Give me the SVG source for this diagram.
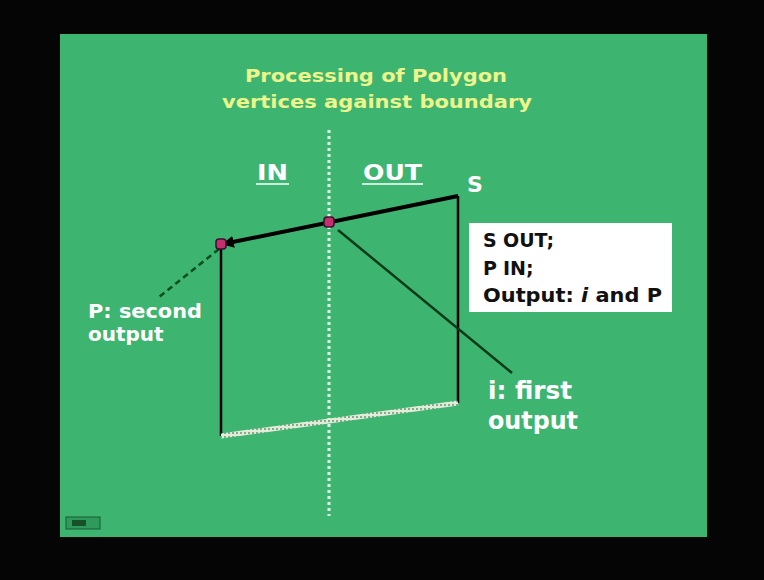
<svg xmlns="http://www.w3.org/2000/svg" width="764" height="580" viewBox="0 0 764 580">
<defs>
<style>
.title{font-family:"DejaVu Sans",Verdana,sans-serif;font-weight:bold;font-size:18px;fill:#eef58a}
.lbl{font-family:"DejaVu Sans",Verdana,sans-serif;font-weight:bold;fill:#ffffff}
.box{font-family:"DejaVu Sans",Verdana,sans-serif;font-weight:bold;font-size:19px;fill:#111}
.edge{stroke:#000;fill:none}
.dot{fill:#c4306e;stroke:#3a1030;stroke-width:1.5}
</style>
<pattern id="hatch" width="4" height="4" patternUnits="userSpaceOnUse">
<rect width="4" height="4" fill="#e0ecd8"/>
<rect width="2" height="2" fill="#8aa890"/>
</pattern>
<marker id="arr" viewBox="0 0 10 10" refX="9" refY="5" markerWidth="3" markerHeight="3" orient="auto">
<path d="M0,0 L10,5 L0,10 z" fill="#000"/>
</marker>
</defs>
<rect width="764" height="580" fill="#050505"/>
<rect x="60" y="34" width="647" height="503" fill="#3db571"/>
<g id="title">
<text class="title" x="245" y="82" textLength="262" lengthAdjust="spacingAndGlyphs">Processing of Polygon</text>
<text class="title" x="222" y="108" textLength="310" lengthAdjust="spacingAndGlyphs">vertices against boundary</text>
</g>
<g id="boundary">
<line x1="329" y1="130" x2="329" y2="516" stroke="#e6fbe8" stroke-width="3" stroke-dasharray="3,3"/>
</g>
<g id="region-labels">
<text class="lbl" x="257" y="180" font-size="21" textLength="31" lengthAdjust="spacingAndGlyphs">IN</text>
<line x1="256" y1="184" x2="289" y2="184" stroke="#fff" stroke-width="1.5"/>
<text class="lbl" x="363" y="180" font-size="21" textLength="59" lengthAdjust="spacingAndGlyphs">OUT</text>
<line x1="362" y1="184" x2="423" y2="184" stroke="#fff" stroke-width="1.5"/>
</g>
<g id="connectors">
<line class="edge" x1="458" y1="196" x2="223" y2="244" stroke-width="4" marker-end="url(#arr)"/>
<line class="edge" x1="458" y1="196" x2="458" y2="403" stroke-width="2.5"/>
<line class="edge" x1="221" y1="245" x2="221" y2="436" stroke-width="2.5"/>
<line x1="221" y1="436" x2="458" y2="403" stroke="url(#hatch)" stroke-width="5"/>
<line x1="219" y1="249" x2="158" y2="298" stroke="#0d4d22" stroke-width="2.5" stroke-dasharray="6,4"/>
<line x1="338" y1="230" x2="512" y2="373" stroke="#0a3a18" stroke-width="2.5"/>
</g>
<g id="S">
<text class="lbl" x="467" y="192" font-size="22">S</text>
</g>
<g id="P">
<rect class="dot" x="216" y="239" width="10" height="10" rx="3"/>
</g>
<g id="i">
<rect class="dot" x="324" y="217" width="10" height="10" rx="3"/>
</g>
<g id="infobox">
<rect x="469" y="223" width="203" height="89" fill="#ffffff"/>
<text class="box" y="247"><tspan x="483">S</tspan><tspan x="503">OUT;</tspan></text>
<text class="box" y="275"><tspan x="483">P</tspan><tspan x="503">IN;</tspan></text>
<text class="box" x="483" y="302" textLength="179" lengthAdjust="spacingAndGlyphs">Output: <tspan font-style="italic">i</tspan> and P</text>
</g>
<g id="P-label">
<text class="lbl" x="88" y="318" font-size="20" textLength="114" lengthAdjust="spacingAndGlyphs">P: second</text>
<text class="lbl" x="88" y="341" font-size="20">output</text>
</g>
<g id="i-label">
<text class="lbl" x="488" y="399" font-size="24" textLength="84" lengthAdjust="spacingAndGlyphs">i: first</text>
<text class="lbl" x="488" y="429" font-size="24" textLength="90" lengthAdjust="spacingAndGlyphs">output</text>
</g>
<g id="icon">
<rect x="66" y="517" width="34" height="12" fill="#2e9a5c" stroke="#1a5a30" stroke-width="1"/>
<rect x="72" y="520" width="14" height="6" fill="#17502a"/>
</g>
</svg>
